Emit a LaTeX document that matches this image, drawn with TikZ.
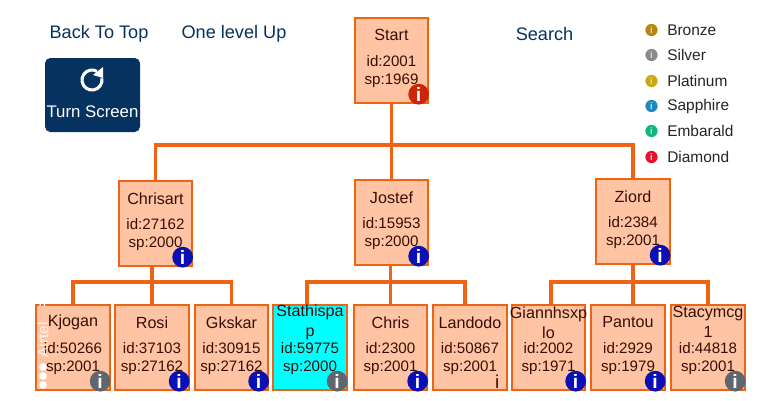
\documentclass[tikz,border=0pt]{standalone}
\usepackage{xcolor}
\usepackage{fontspec}
\setmainfont{Liberation Sans}
\usetikzlibrary{calc}
\definecolor{treearancio}{HTML}{EE6414}
\definecolor{treepesca}{HTML}{FFC4A3}
\definecolor{treeciano}{HTML}{00FFFF}
\definecolor{treeinchiostro}{HTML}{3A0E06}
\definecolor{topblu}{HTML}{06325F}
\definecolor{badgeblu}{HTML}{0A10B4}
\definecolor{badgerosso}{HTML}{CC2508}
\definecolor{badgegrigio}{HTML}{5F666E}
\definecolor{legbronzo}{HTML}{B8860F}
\definecolor{legargento}{HTML}{8A8A8A}
\definecolor{legplatino}{HTML}{C9A913}
\definecolor{legzaffiro}{HTML}{1E88C0}
\definecolor{legsmeraldo}{HTML}{12B47F}
\definecolor{legdiamante}{HTML}{E8112D}
\tikzset{
  personbox/.style={draw=treearancio, fill=treepesca, line width=1.5pt, inner sep=0pt,
    minimum width=55pt, minimum height=64pt},
  persontitle/.style={text=treeinchiostro, align=center, inner sep=0pt,
    font=\fontsize{12.1}{14}\selectfont},
  persondata/.style={text=treeinchiostro, align=center, inner sep=0pt,
    font=\fontsize{11.35}{13.2}\selectfont},
  infobadge/.style={circle, inner sep=0pt, minimum size=15.6pt, text=white,
    font=\bfseries\fontsize{14.5}{14}\selectfont},
  legenddot/.style={circle, inner sep=0pt, minimum size=9.2pt, text=white!85!black,
    font=\bfseries\fontsize{7}{7}\selectfont},
  legendtext/.style={anchor=west, text=black!85, inner sep=0pt,
    font=\fontsize{11.6}{14}\selectfont},
  toplink/.style={text=topblu, inner sep=0pt, font=\fontsize{13.6}{16}\selectfont},
  treeline/.style={draw=treearancio, line width=2.4pt}
}
\newcommand{\persona}[6][]{
  % #2 = nome del nodo, #3 = centro, #4 = titolo, #5 = id, #6 = sp
  \node[personbox, #1] (#2) at #3 {};
  \node[persontitle] (#2title) at ($(#2.north)+(0,18.5)$) {#4};
  \node[persondata] (#2data) at ($(#2.north)+(0,55)$) {id:#5\\sp:#6};
}
\newcommand{\badge}[2]{
  % #1 = nodo della persona, #2 = colore
  \node[infobadge, fill=#2] (#1badge) at ($(#1.south east)+(-10.5,-10)$) {i};
}
\begin{document}
\begin{tikzpicture}[x=0.75pt,y=-0.75pt]
  \useasboundingbox (0,0) rectangle (780,400);
  \fill[white] (0,0) rectangle (780,400);

  % ---- Comandi in alto ----
  \node[toplink] (backtop) at (99,34) {Back To Top};
  \node[toplink] (levelup) at (234,34) {One level Up};
  \node[toplink] (search) at (544.5,34) {Search};

  \fill[topblu, rounded corners=4pt] (45,58) rectangle (140,132);
  \draw[white, line width=2.3pt] (92,80) ++(-10:10) arc (-10:300:10);
  \fill[white] (103,67) -- (103,78) -- (93,75) -- cycle;
  \node[text=white, inner sep=0pt, font=\fontsize{12.6}{14}\selectfont] (turnscreen) at (92.5,112) {Turn Screen};

  % ---- Legenda ----
  \foreach \nome/\colore/\y in {Bronze/legbronzo/30, Silver/legargento/55, Platinum/legplatino/81,
      Sapphire/legzaffiro/106, Embarald/legsmeraldo/131, Diamond/legdiamante/157}{
    \node[legenddot, fill=\colore] (dot\nome) at (651.5,\y) {i};
    \node[legendtext] (leg\nome) at (667,\y) {\nome};
  }

  % ---- Albero ----
  \persona{start}{(391.5,60.5)}{Start}{2001}{1969}
  \badge{start}{badgerosso}

  \persona{chrisart}{(155.5,223.5)}{Chrisart}{27162}{2000}
  \badge{chrisart}{badgeblu}
  \persona{jostef}{(391.5,222.5)}{Jostef}{15953}{2000}
  \badge{jostef}{badgeblu}
  \persona{ziord}{(633,221.5)}{Ziord}{2384}{2001}
  \badge{ziord}{badgeblu}

  \persona{kjogan}{(73,347.5)}{Kjogan}{50266}{2001}
  \badge{kjogan}{badgegrigio}
  \persona{rosi}{(152,347.5)}{Rosi}{37103}{27162}
  \badge{rosi}{badgeblu}
  \persona{gkskar}{(231.5,347.5)}{Gkskar}{30915}{27162}
  \badge{gkskar}{badgeblu}
  \persona[fill=treeciano]{stathispa}{(310,347.5)}{Stathispa\\[1pt]p}{59775}{2000}
  \badge{stathispa}{badgegrigio}
  \persona{chris}{(390.5,347.5)}{Chris}{2300}{2001}
  \badge{chris}{badgeblu}
  \persona{landodo}{(470,347.5)}{Landodo}{50867}{2001}
  \node[text=treeinchiostro, inner sep=0pt, font=\fontsize{14}{14}\selectfont] (landodobadge)
    at ($(landodo.south east)+(-10.5,-9)$) {i};
  \persona{giannhs}{(548.5,347.5)}{Giannhsxp\\[1pt]lo}{2002}{1971}
  \badge{giannhs}{badgeblu}
  \persona{pantou}{(628,347.5)}{Pantou}{2929}{1979}
  \badge{pantou}{badgeblu}
  \persona{stacy}{(708,347.5)}{Stacymcg\\[1pt]1}{44818}{2001}
  \badge{stacy}{badgegrigio}

  % ---- Collegamenti ----
  \coordinate (busstart) at (391.5,145);
  \coordinate (buschrisart) at (152,282);
  \coordinate (busjostef) at (390.5,282);
  \coordinate (busziord) at (633,282);

  \draw[treeline] (start.south) -- (busstart);
  \draw[treeline] (busstart) -| (chrisart.north);
  \draw[treeline] (busstart) -- (jostef.north);
  \draw[treeline] (busstart) -| (ziord.north);

  \draw[treeline] (buschrisart |- chrisart.south) -- (buschrisart);
  \draw[treeline] (buschrisart) -| (kjogan.north);
  \draw[treeline] (buschrisart) -- (rosi.north);
  \draw[treeline] (buschrisart) -| (gkskar.north);

  \draw[treeline] (busjostef |- jostef.south) -- (busjostef);
  \draw[treeline] (busjostef) -| ($(stathispa.north)+(-3,0)$);
  \draw[treeline] (busjostef) -- (chris.north);
  \draw[treeline] (busjostef) -| ($(landodo.north)+(-5,0)$);

  \draw[treeline] (ziord.south) -- (busziord);
  \draw[treeline] (busziord) -| ($(giannhs.north)+(2.5,0)$);
  \draw[treeline] (busziord) -- ($(pantou.north)+(5,0)$);
  \draw[treeline] (busziord) -| (stacy.north);

  % Barra di stato sopra la prima casella
  \node[rotate=90, text=white, opacity=0.8, inner sep=0pt, font=\fontsize{11.5}{14}\selectfont] (airtel) at (43,340) {Airtel};
  \foreach \y in {367,376,385}
    \fill[white] (43,\y) circle (3.8);
  \draw[white, line width=0.9pt] (40,306) arc (180:270:6);
  \draw[white, line width=0.9pt] (44,306) arc (180:270:4);
\end{tikzpicture}
\end{document}
